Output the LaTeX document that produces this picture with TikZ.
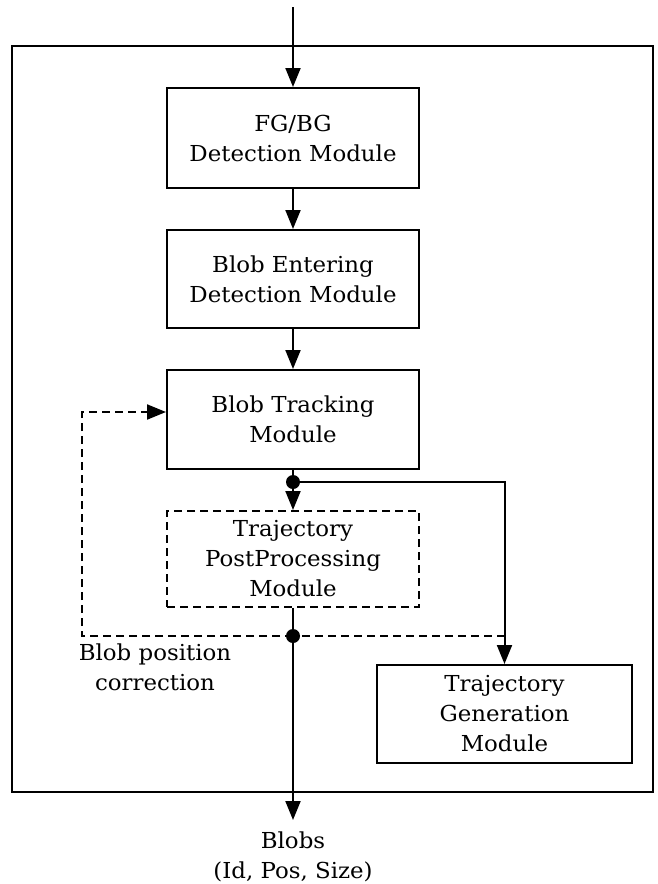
\documentclass[tikz,border=0pt]{standalone}
\usepackage{fontspec}
\setmainfont[FakeStretch=1.04]{DejaVu Serif}
\usetikzlibrary{arrows.meta}
\begin{document}
\begin{tikzpicture}[x=1pt,y=-1pt,
  txt/.style={align=center,font=\fontsize{22}{30}\selectfont},
  box/.style={txt,draw,line width=2pt,minimum width=252pt,inner sep=0pt},
  arr/.style={line width=2pt,-{Triangle[width=15pt,length=19pt]}},
  ln/.style={line width=2pt},
  dsh/.style={dash pattern=on 8pt off 5pt},
  dot/.style={circle,fill=black,inner sep=0pt,minimum size=14pt}]
\useasboundingbox (0,0) rectangle (657,884);
\draw[line width=2pt] (12,46) rectangle (653,792);
\coordinate (in) at (293,7);
\node[box,minimum height=100pt] (fg) at (293,138) {FG/BG\\Detection Module};
\node[box,minimum height=98pt] (be) at (293,279) {Blob Entering\\Detection Module};
\node[box,minimum height=99pt] (bt) at (293,419.5) {Blob Tracking\\Module};
\node[box,dsh,minimum height=96pt] (pp) at (293,559) {Trajectory\\PostProcessing\\Module};
\node[box,minimum width=255pt,minimum height=98pt] (tg) at (504.5,714) {Trajectory\\Generation\\Module};
\node[dot] (d1) at (293,482) {};
\node[dot] (d2) at (293,636) {};
\coordinate (out) at (293,820);
\coordinate (fb) at (82,412);
\node[txt] (lbl) at (155,667) {Blob position\\correction};
\node[txt] (blobs) at (293,857) {Blobs\\(Id, Pos, Size)};
\draw[arr] (in) -- (fg.north);
\draw[arr] (fg) -- (be);
\draw[arr] (be) -- (bt);
\draw[ln] (bt.south) -- (d1.center);
\draw[arr] (d1.center) -- (pp.north);
\draw[arr] (d1.center) -| (tg.north);
\draw[ln] (pp.south) -- (d2.center);
\draw[arr] (d2.center) -- (out);
\draw[ln,dsh] (tg.north |- d2) -- (d2.center);
\draw[arr,dsh] (d2.center) -| (fb) -- (fb -| bt.west);
\end{tikzpicture}
\end{document}
